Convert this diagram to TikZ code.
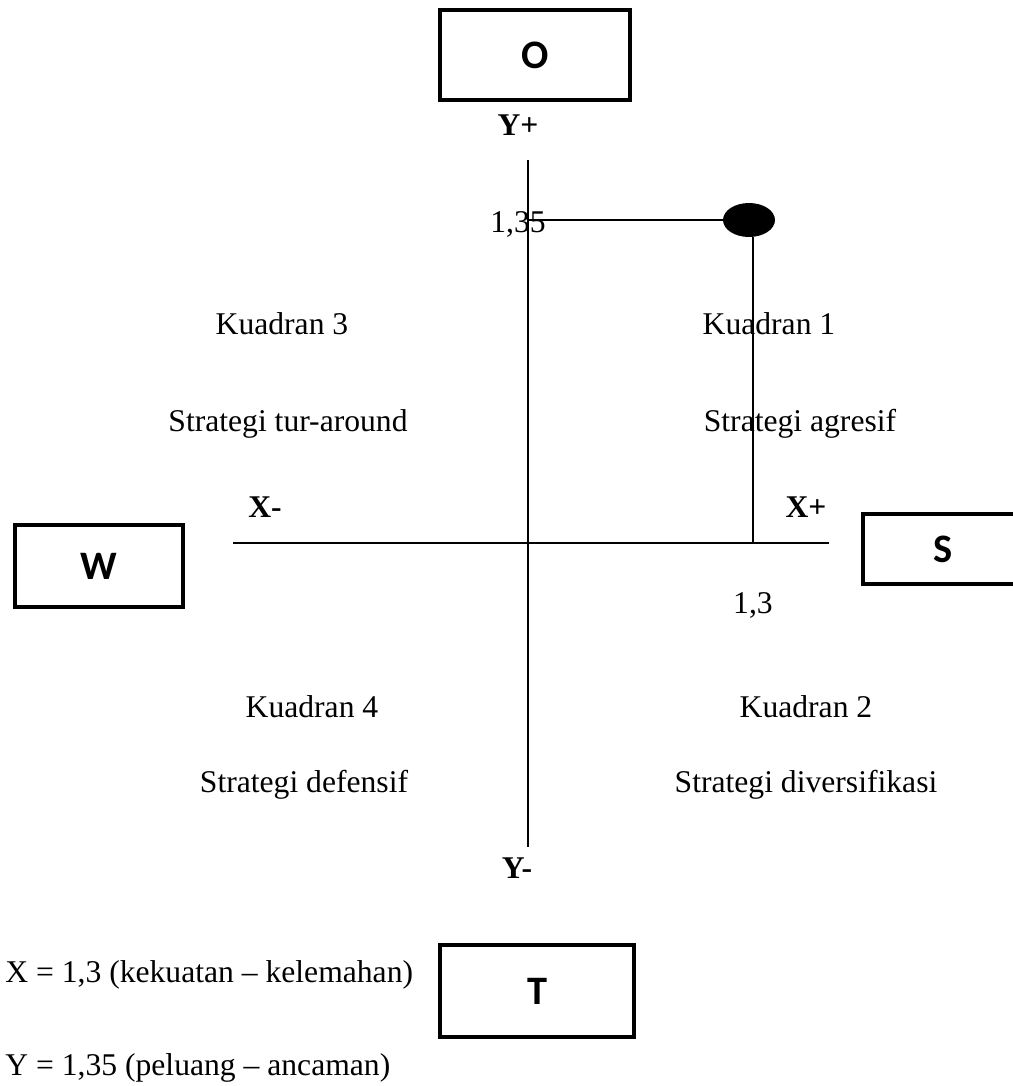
\documentclass[tikz,border=0pt]{standalone}
\usepackage{fontspec}
\setmainfont{Liberation Serif}
\newfontfamily\boxfont{Carlito}
\usetikzlibrary{shapes.geometric, positioning}
\tikzstyle{swot} = [rectangle, draw=black, line width=2.3pt, font=\boxfont\bfseries\fontsize{23}{25}\selectfont, inner sep=0pt]
\tikzstyle{label} = [font=\fontsize{18}{21}\selectfont, inner sep=0pt]
\tikzstyle{axislabel} = [font=\bfseries\fontsize{18}{21}\selectfont, inner sep=0pt]
\tikzstyle{axis} = [line width=1.1pt]

\begin{document}
\begin{tikzpicture}[x=0.02cm, y=-0.02cm]
\useasboundingbox (0,0) rectangle (1012,1086);
% boxes
\node (o) [swot, minimum width=3.8cm, minimum height=1.8cm] at (535,55) {O};
\node (w) [swot, minimum width=3.36cm, minimum height=1.64cm] at (99,566) {W};
\node (s) [swot, minimum width=3.2cm, minimum height=1.4cm] at (943,549) {S};
\node (t) [swot, minimum width=3.88cm, minimum height=1.84cm] at (537,991) {T};

% axes
\coordinate (ytop) at (528,160);
\coordinate (ybot) at (528,847);
\coordinate (xleft) at (233,543);
\coordinate (xright) at (829,543);
\draw [axis] (ytop) -- (ybot);
\draw [axis] (xleft) -- (xright);

\node (yplus) [axislabel] at (518,125) {Y+};
\node (ymin) [axislabel] at (517,868) {Y-};
\node (xmin) [axislabel] at (265,507) {X-};
\node (xplus) [axislabel] at (806,507) {X+};

% point
\node (pt) [ellipse, fill=black, minimum width=1.04cm, minimum height=0.68cm, inner sep=0pt] at (749,220) {};
\coordinate (yval) at (528,220);
\coordinate (xval) at (753,543);
\draw [axis] (yval) -- (pt);
\draw [axis] (pt.south -| xval) -- (xval);
\node (ylab) [label] at (518,224) {1,35};
\node (xlab) [label] at (753,605) {1,3};

% quadrants
\node (k3) [label] at (282,324) {Kuadran 3};
\node (s3) [label] at (288,424) {Strategi tur-around};
\node (k1) [label] at (769,324) {Kuadran 1};
\node (s1) [label] at (800,424) {Strategi agresif};
\node (k4) [label] at (312,707) {Kuadran 4};
\node (s4) [label] at (304,785) {Strategi defensif};
\node (k2) [label] at (806,707) {Kuadran 2};
\node (s2) [label] at (806,785) {Strategi diversifikasi};

\node (xeq) [label, anchor=west] at (5,975) {X = 1,3 (kekuatan -- kelemahan)};
\node (yeq) [label, anchor=west] at (5,1068) {Y = 1,35 (peluang -- ancaman)};
\end{tikzpicture}
\end{document}
